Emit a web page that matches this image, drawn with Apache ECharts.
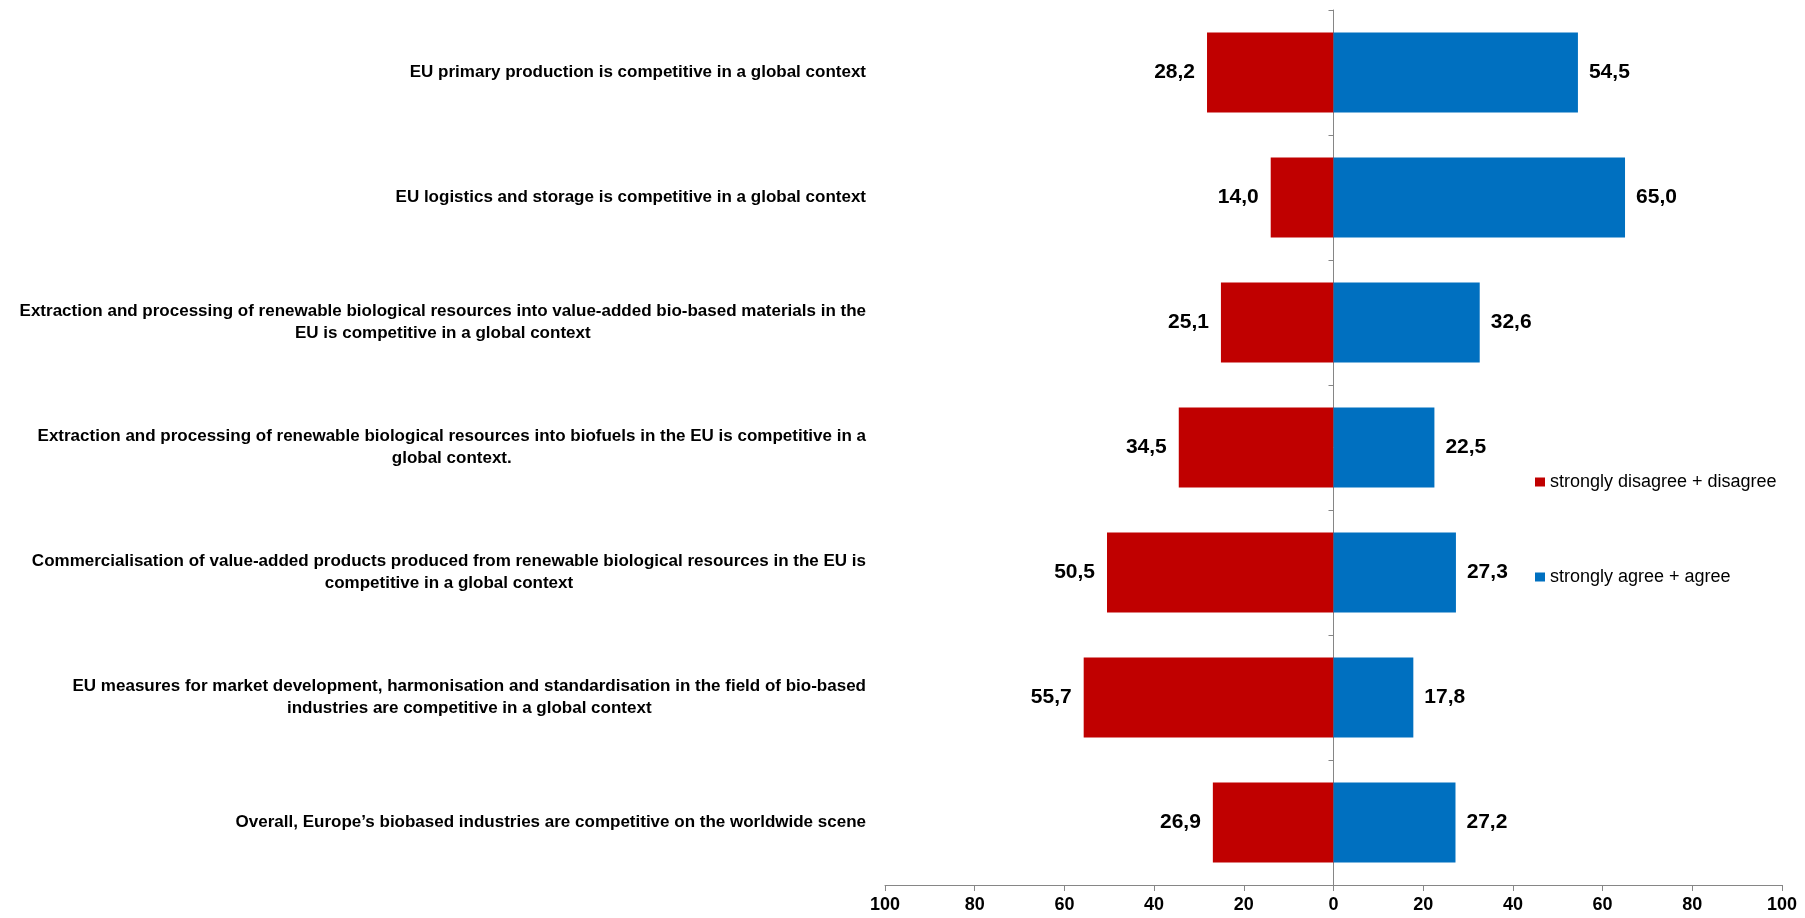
<!DOCTYPE html>
<html>
<head>
<meta charset="utf-8">
<script src="https://cdn.jsdelivr.net/npm/echarts@6/dist/echarts.min.js"></script>
<style>
  html, body { margin: 0; padding: 0; background: #fff; }
  #chart { width: 1805px; height: 918px; }
</style>
</head>
<body>
<div id="chart"></div>
<script>
// statements, top to bottom
const statements = [
  'EU primary production is competitive in a global context',
  'EU logistics and storage is competitive in a global context',
  'Extraction and processing of renewable biological resources into value-added bio-based materials in the\nEU is competitive in a global context',
  'Extraction and processing of renewable biological resources into biofuels in the EU is competitive in a\nglobal context.',
  'Commercialisation of value-added products produced from renewable biological resources in the EU is\ncompetitive in a global context',
  'EU measures for market development, harmonisation and standardisation in the field of bio-based\nindustries are competitive in a global context',
  'Overall, Europe\u2019s biobased industries are competitive on the worldwide scene'
];
const disagree = [28.2, 14.0, 25.1, 34.5, 50.5, 55.7, 26.9];
const agree = [54.5, 65.0, 32.6, 22.5, 27.3, 17.8, 27.2];
const seriesNames = ['strongly disagree + disagree', 'strongly agree + agree'];
const xTicks = [-100, -80, -60, -40, -20, 0, 20, 40, 60, 80, 100];

const FONT = "'Liberation Sans', Arial, sans-serif";
const fmt = v => Math.abs(v).toFixed(1).replace('.', ',');

const chart = echarts.init(document.getElementById('chart'));

const legendBase = {
  left: 1530,
  itemWidth: 10, itemHeight: 9,
  icon: 'rect',
  textStyle: { fontSize: 18, color: '#000', fontFamily: FONT }
};

const option = {
  animation: false,
  textStyle: { fontFamily: FONT },
  grid: { left: 885, right: 23, top: 10, bottom: 33 },
  legend: [
    Object.assign({ data: [seriesNames[0]], top: 468 }, legendBase),
    Object.assign({ data: [seriesNames[1]], top: 563 }, legendBase)
  ],
  xAxis: {
    type: 'value',
    min: -100, max: 100, interval: 20,
    splitLine: { show: false },
    axisLine: { show: true, lineStyle: { color: '#868686', width: 1 } },
    axisTick: { show: true, length: 6, lineStyle: { color: '#868686' } },
    axisLabel: {
      formatter: v => xTicks.includes(v) ? String(Math.abs(v)) : '',
      color: '#000', fontWeight: 'bold', fontSize: 18, margin: 11, fontFamily: FONT
    }
  },
  yAxis: [
    {
      type: 'category',
      data: statements,
      inverse: true,
      axisLine: { show: false, onZero: false },
      axisTick: { show: false },
      axisLabel: {
        margin: 19,
        color: '#000',
        formatter: v => v.split('\n').map(l => '{c|' + l + '}').join('\n'),
        rich: {
          c: { align: 'center', fontSize: 17, fontWeight: 'bold', color: '#000', fontFamily: FONT, lineHeight: 22 }
        }
      }
    },
    {
      // zero line with the category boundary ticks
      type: 'category',
      data: statements,
      inverse: true,
      position: 'left',
      axisLine: { show: true, onZero: true, lineStyle: { color: '#868686', width: 1 } },
      axisTick: { show: true, length: 5, lineStyle: { color: '#868686' } },
      axisLabel: { show: false }
    }
  ],
  series: [
    {
      name: seriesNames[0],
      type: 'bar',
      stack: 'total',
      barCategoryGap: '36%',
      itemStyle: { color: '#C00000' },
      label: {
        show: true, position: 'left', distance: 12,
        formatter: p => fmt(p.value),
        color: '#000', fontWeight: 'bold', fontSize: 21, fontFamily: FONT
      },
      data: disagree.map(v => -v)
    },
    {
      name: seriesNames[1],
      type: 'bar',
      stack: 'total',
      barCategoryGap: '36%',
      itemStyle: { color: '#0070C0' },
      label: {
        show: true, position: 'right', distance: 11,
        formatter: p => fmt(p.value),
        color: '#000', fontWeight: 'bold', fontSize: 21, fontFamily: FONT
      },
      data: agree
    }
  ]
};

chart.setOption(option);
</script>
</body>
</html>
